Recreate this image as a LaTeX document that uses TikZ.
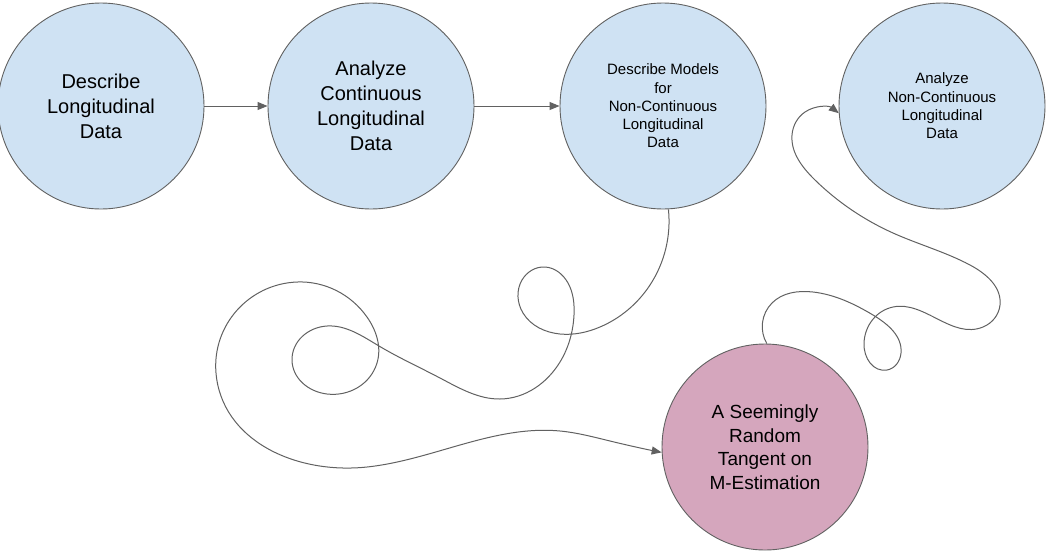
\documentclass[tikz,border=0pt]{standalone}
\usepackage{fontspec}
\setmainfont{Liberation Sans}
\usetikzlibrary{arrows.meta,hobby}
\definecolor{stepblue}{HTML}{CFE2F3}
\definecolor{steppink}{HTML}{D5A6BD}
\definecolor{edgegray}{HTML}{616161}
\tikzset{
  stage/.style={circle, draw=edgegray, line width=0.9pt, fill=stepblue,
    minimum size=206pt, inner sep=0pt, align=center, text=black},
  bigtext/.style={font=\fontsize{20}{25}\selectfont},
  smalltext/.style={font=\fontsize{15}{18.3}\selectfont},
  conn/.style={draw=edgegray, line width=1pt,
    -{Triangle[length=10pt,width=8pt]}},
}
\begin{document}
\begin{tikzpicture}[x=1pt,y=-1pt]
\useasboundingbox (0,0) rectangle (1046,552);

% main sequence of stages
\node[stage,bigtext] (d1) at (101,106) {Describe\\Longitudinal\\Data};
\node[stage,bigtext] (d2) at (371,106) {Analyze\\Continuous\\Longitudinal\\Data};
\node[stage,smalltext] (d3) at (663,106) {Describe Models\\for\\Non-Continuous\\Longitudinal\\Data};
\node[stage,smalltext] (d4) at (942,106) {Analyze\\Non-Continuous\\Longitudinal\\Data};
\node[stage,fill=steppink,font=\fontsize{19}{23.5}\selectfont] (tan) at (765,447)
  {A Seemingly\\Random\\Tangent on\\M-Estimation};

\draw[conn] (d1) -- (d2);
\draw[conn] (d2) -- (d3);

% the wandering detour into the tangent
\draw[conn] (d3.-87) to[curve through={
  (650,285) (600,327) (560,334) (523,313) (522,280) (545,267) (568,283)
  (574,315) (560,362) (500,399) (440,378) (379,346) (327,326) (292,360)
  (327,394) (377,363) (367,317) (297,282) (216,373) (367,467) (560,431)
  (610,441)}] (tan.183);

% and the way back out of it
\draw[conn] (tan.89) to[curve through={
  (772,303) (813,292) (873,315) (901,353) (887,370) (864,343) (893,307)
  (983,327) (1000,305) (970,265) (893,233) (815,180) (792,135) (805,112)}]
  (d4.184);
\end{tikzpicture}
\end{document}
